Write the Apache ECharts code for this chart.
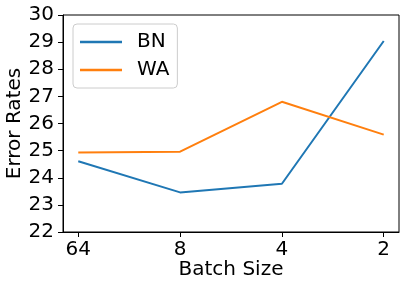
<!DOCTYPE html>
<html><head><meta charset="utf-8">
<script src="https://cdn.jsdelivr.net/npm/echarts@6/dist/echarts.min.js"></script>
<style>html,body{margin:0;padding:0;background:#fff}#c{width:408px;height:288px}</style>
</head><body><div id="c"></div>
<script>
const categories = ['64', '8', '4', '2'];
const bnValues = [24.61, 23.46, 23.78, 29.04];
const waValues = [24.93, 24.96, 26.80, 25.59];
const yTicks = [22, 23, 24, 25, 26, 27, 28, 29, 30];

const toPairs = arr => arr.map((v, i) => [i, v]);
const chart = echarts.init(document.getElementById('c'));
const font = 'DejaVu Sans';
chart.setOption({
  animation: false,
  textStyle: { fontFamily: font },
  grid: { left: 63, right: 9, top: 15, bottom: 56, outerBoundsMode: 'none', containLabel: false,
          show: true, borderColor: '#000', borderWidth: 1, backgroundColor: 'transparent' },
  xAxis: {
    type: 'value', min: -0.15, max: 3.15,
    name: 'Batch Size', nameLocation: 'middle', nameGap: 28, nameMoveOverlap: false,
    nameTextStyle: { fontSize: 20, color: '#000', fontFamily: font },
    axisLine: { show: true, onZero: false, lineStyle: { color: '#000', width: 1 } },
    axisTick: { show: true, length: 5, lineStyle: { color: '#000' }, customValues: [0, 1, 2, 3] },
    axisLabel: { fontSize: 20, color: '#000', margin: 8, fontFamily: font, customValues: [0, 1, 2, 3], formatter: v => categories[Math.round(v)] },
    splitLine: { show: false }
  },
  yAxis: {
    type: 'value', min: yTicks[0], max: yTicks[yTicks.length - 1], interval: 1,
    name: 'Error Rates', nameLocation: 'middle', nameGap: 38, nameMoveOverlap: false,
    nameTextStyle: { fontSize: 20, color: '#000', fontFamily: font },
    axisLine: { show: true, onZero: false, lineStyle: { color: '#000', width: 1 } },
    axisTick: { show: true, length: 5, lineStyle: { color: '#000' } },
    axisLabel: { fontSize: 20, color: '#000', margin: 9, fontFamily: font },
    splitLine: { show: false }
  },
  legend: {
    orient: 'vertical', left: 73, top: 24,
    padding: [8, 8, 8, 7], itemGap: 8,
    borderColor: '#ccc', borderWidth: 1, borderRadius: 4, backgroundColor: 'rgba(255,255,255,0.8)',
    itemWidth: 42, itemHeight: 2.5, icon: 'rect',
    formatter: name => '{s|}{p|' + name + '}',
    textStyle: { fontSize: 20, color: '#000', fontFamily: font,
      rich: { s: { width: 10, fontSize: 20 }, p: { fontSize: 20, color: '#000', fontFamily: font } } },
    data: ['BN', 'WA']
  },
  series: [
    { name: 'BN', type: 'line', data: toPairs(bnValues), showSymbol: false, color: '#1f77b4', lineStyle: { width: 2 } },
    { name: 'WA', type: 'line', data: toPairs(waValues), showSymbol: false, color: '#ff7f0e', lineStyle: { width: 2 } }
  ]
});
</script></body></html>
